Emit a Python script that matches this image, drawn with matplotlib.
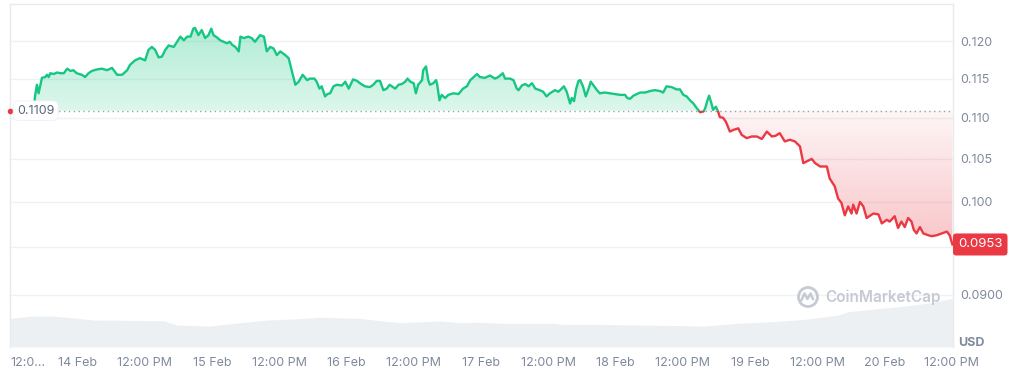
import numpy as np
import matplotlib.pyplot as plt
import matplotlib.transforms as mtransforms
from matplotlib.patches import Polygon, Rectangle, Circle
from matplotlib.lines import Line2D

plt.rcParams['font.family'] = ['Inter', 'DejaVu Sans']

# hours since 13 Feb 12:00 PM, price in USD
hours = [0.0, 1.8, 3.3, 4.2, 4.5, 4.8, 5.1, 5.7, 6.3, 6.6, 6.9, 7.2, 7.8, 8.4, 9.0, 9.6,
         10.2, 10.8, 11.3, 11.9, 12.8, 13.4, 14.0, 14.6, 15.5, 16.4, 17.3, 18.2, 19.1, 20.0,
         20.9, 21.4, 22.3, 23.2, 24.1, 24.7, 25.3, 25.9, 26.5, 27.1, 27.7, 28.3, 29.2, 29.8,
         30.4, 31.0, 31.6, 32.2, 32.7, 33.0, 33.6, 34.2, 34.8, 35.4, 35.9, 36.3, 36.9, 37.5,
         38.1, 38.7, 39.2, 39.6, 40.2, 40.8, 41.1, 41.7, 42.5, 43.1, 43.7, 44.6, 45.3, 45.8,
         46.4, 47.0, 47.6, 48.2, 49.1, 49.7, 50.3, 50.9, 51.5, 52.2, 53.0, 53.5, 54.3, 54.7,
         55.2, 55.6, 56.2, 56.6, 57.1, 57.7, 58.3, 59.2, 59.8, 60.4, 61.2, 61.9, 62.6, 63.3,
         64.2, 64.8, 65.4, 66.0, 66.6, 67.2, 67.7, 68.1, 68.7, 69.3, 69.9, 70.5, 70.9, 71.4,
         72.0, 72.4, 72.8, 73.5, 73.7, 74.2, 74.6, 74.9, 75.5, 76.0, 76.2, 76.6, 77.0, 77.6,
         78.2, 79.1, 80.0, 80.8, 81.5, 82.1, 82.7, 83.3, 83.8, 84.7, 85.6, 86.5, 87.1, 87.9,
         88.3, 89.2, 89.8, 90.4, 90.7, 91.3, 91.9, 92.5, 93.1, 93.7, 94.5, 95.1, 95.7, 96.3,
         97.2, 97.8, 98.4, 98.8, 99.3, 99.9, 100.2, 100.6, 101.0, 101.4, 101.7, 102.2, 102.7,
         103.2, 103.6, 104.0, 104.7, 105.2, 106.1, 107.0, 107.9, 108.8, 109.7, 110.1, 110.6,
         111.2, 111.8, 112.4, 113.3, 114.2, 115.0, 115.9, 116.5, 117.1, 118.0, 118.9, 119.5,
         120.1, 120.7, 121.3, 121.9, 122.5, 123.1, 123.7, 124.0, 124.4, 124.7, 125.2, 125.4,
         125.9, 126.3, 126.6, 127.2, 127.7, 128.4, 129.0, 129.9, 130.5, 131.4, 132.3, 133.2,
         134.1, 135.0, 135.9, 136.6, 137.3, 138.2, 139.1, 140.0, 140.9, 141.5, 142.1, 143.0,
         143.6, 144.5, 145.7, 146.2, 147.1, 147.7, 148.3, 148.9, 149.5, 150.1, 150.4, 151.0,
         151.6, 152.2, 152.8, 154.0, 154.9, 155.5, 156.4, 156.9, 157.8, 158.4, 159.0, 159.6,
         160.2, 160.8, 161.2, 161.7, 162.3, 162.9, 163.8, 164.4, 165.3, 166.2, 167.1, 167.6,
         168.1]
price = [0.1109, 0.1108, 0.1111, 0.1110, 0.1129, 0.1142, 0.1131, 0.1151, 0.1152, 0.1155,
         0.1152, 0.1157, 0.1156, 0.1158, 0.1157, 0.1157, 0.1163, 0.1160, 0.1161, 0.1157,
         0.1155, 0.1152, 0.1157, 0.1160, 0.1162, 0.1163, 0.1161, 0.1164, 0.1155, 0.1155,
         0.1161, 0.1168, 0.1174, 0.1177, 0.1174, 0.1188, 0.1192, 0.1188, 0.1178, 0.1179,
         0.1188, 0.1194, 0.1192, 0.1199, 0.1206, 0.1201, 0.1206, 0.1206, 0.1217, 0.1218,
         0.1208, 0.1215, 0.1204, 0.1208, 0.1217, 0.1208, 0.1205, 0.1201, 0.1199, 0.1197,
         0.1199, 0.1195, 0.1192, 0.1186, 0.1206, 0.1204, 0.1206, 0.1204, 0.1199, 0.1208,
         0.1206, 0.1186, 0.1192, 0.1190, 0.1181, 0.1186, 0.1181, 0.1177, 0.1159, 0.1142,
         0.1146, 0.1155, 0.1148, 0.1150, 0.1150, 0.1146, 0.1137, 0.1140, 0.1127, 0.1130,
         0.1131, 0.1140, 0.1142, 0.1141, 0.1146, 0.1137, 0.1149, 0.1147, 0.1143, 0.1140,
         0.1139, 0.1142, 0.1147, 0.1147, 0.1135, 0.1137, 0.1142, 0.1140, 0.1137, 0.1142,
         0.1143, 0.1146, 0.1150, 0.1146, 0.1144, 0.1131, 0.1142, 0.1148, 0.1161, 0.1166,
         0.1148, 0.1142, 0.1144, 0.1148, 0.1142, 0.1122, 0.1129, 0.1125, 0.1129, 0.1131,
         0.1130, 0.1137, 0.1140, 0.1148, 0.1152, 0.1156, 0.1152, 0.1151, 0.1154, 0.1150,
         0.1152, 0.1157, 0.1150, 0.1150, 0.1148, 0.1137, 0.1135, 0.1141, 0.1143, 0.1140,
         0.1144, 0.1137, 0.1135, 0.1133, 0.1127, 0.1131, 0.1135, 0.1133, 0.1137, 0.1140,
         0.1133, 0.1118, 0.1125, 0.1121, 0.1137, 0.1147, 0.1148, 0.1140, 0.1127, 0.1137,
         0.1146, 0.1142, 0.1135, 0.1131, 0.1132, 0.1131, 0.1130, 0.1129, 0.1129, 0.1125,
         0.1124, 0.1128, 0.1130, 0.1132, 0.1132, 0.1134, 0.1135, 0.1134, 0.1132, 0.1140,
         0.1139, 0.1136, 0.1136, 0.1129, 0.1127, 0.1122, 0.1118, 0.1112, 0.1107, 0.1108,
         0.1112, 0.1122, 0.1128, 0.1116, 0.1110, 0.1114, 0.1108, 0.1101, 0.1100, 0.1095,
         0.1083, 0.1085, 0.1087, 0.1079, 0.1075, 0.1077, 0.1077, 0.1074, 0.1083, 0.1077,
         0.1078, 0.1081, 0.1071, 0.1073, 0.1071, 0.1065, 0.1045, 0.1047, 0.1050, 0.1045,
         0.1041, 0.1041, 0.1027, 0.1018, 0.1004, 0.0999, 0.0985, 0.0995, 0.0987, 0.0997,
         0.0987, 0.1000, 0.0995, 0.0982, 0.0987, 0.0986, 0.0976, 0.0980, 0.0978, 0.0984,
         0.0971, 0.0978, 0.0972, 0.0982, 0.0978, 0.0969, 0.0965, 0.0972, 0.0965, 0.0963,
         0.0962, 0.0963, 0.0965, 0.0967, 0.0963, 0.0953]
ref_price = 0.1109
last_price = 0.0953

# 24h volume (relative, M USD)
vol_hours = [0.0, 4.2, 7.2, 10.2, 14.9, 27.3, 29.8, 35.7, 39.8, 41.1, 45.9, 50.5, 55.3,
             62.4, 66.0, 69.6, 76.7, 80.3, 83.8, 87.9, 97.2, 98.5, 103.8, 112.0, 123.9,
             129.8, 135.9, 141.8, 147.7, 149.5, 153.7, 159.6, 164.4, 168.2]
volume = [28.7, 31.0, 31.0, 29.7, 27.0, 26.3, 22.0, 21.0, 23.7, 24.3, 27.0, 28.0, 29.7,
          28.7, 26.3, 24.3, 26.0, 24.3, 24.7, 23.7, 23.7, 22.7, 22.7, 22.0, 21.0,
          23.7, 25.3, 27.7, 32.0, 35.3, 37.7, 41.0, 44.3, 48.7]

xtick_hours = list(range(0, 169, 12))
xtick_labels = ['12:0...', '14 Feb', '12:00 PM', '15 Feb', '12:00 PM', '16 Feb', '12:00 PM',
                '17 Feb', '12:00 PM', '18 Feb', '12:00 PM', '19 Feb', '12:00 PM', '20 Feb',
                '12:00 PM']
# the 0.095 label sits under the last-price tag, so it is left blank
ytick_values = [0.090, 0.095, 0.100, 0.105, 0.110, 0.115, 0.120]
ytick_labels = ['0.0900', '', '0.100', '0.105', '0.110', '0.115', '0.120']

GREEN = '#16c784'
RED = '#ea3943'
GREY = '#808a9d'
YMIN, YMAX = 0.08485, 0.12514

fig = plt.figure(figsize=(10.1, 3.69), dpi=100)
pos = [10 / 1010, 22 / 369, 943 / 1010, 343 / 369]
vax = fig.add_axes(pos)
ax = fig.add_axes(pos, sharex=vax)
ax.patch.set_visible(False)

# volume underneath
vax.fill_between(vol_hours, volume, 0, color='#edf0f3', lw=0)
vax.set_ylim(0, 343)
vax.set_axis_off()

h = np.array(hours)
p = np.array(price)
ax.set_yscale('log')

ref_frac = (np.log(ref_price) - np.log(YMIN)) / (np.log(YMAX) - np.log(YMIN))


def gradient_fill(rgb, alpha_fn, ys):
    poly = np.column_stack([np.r_[h, h[::-1]], np.r_[ys, np.full(len(h), ref_price)]])
    patch = Polygon(poly, closed=True, transform=ax.transData, fc='none', ec='none')
    ax.add_patch(patch)
    frac = np.linspace(0, 1, 400)
    img = np.zeros((400, 1, 4))
    img[..., :3] = rgb
    img[..., 3] = np.clip(alpha_fn(frac), 0, 1)[:, None]
    im = ax.imshow(img, extent=[0, 1, 0, 1], transform=ax.transAxes, origin='lower',
                   aspect='auto', interpolation='bilinear', zorder=1)
    im.set_clip_path(patch)


gradient_fill((22 / 255, 199 / 255, 132 / 255),
              lambda f: 0.15 + (f - ref_frac) * 0.75, np.maximum(p, ref_price))
gradient_fill((234 / 255, 57 / 255, 67 / 255),
              lambda f: 0.05 + (ref_frac - f) * 0.62, np.minimum(p, ref_price))

# price line, green above the reference price and red below
trans = mtransforms.blended_transform_factory(ax.transAxes, ax.transData)
above = Rectangle((0, ref_price), 1, 1, transform=trans)
below = Rectangle((0, 0.001), 1, ref_price - 0.001, transform=trans)
l1, = ax.plot(h, p, color=GREEN, lw=1.7, zorder=3, solid_joinstyle='round')
l1.set_clip_path(above)
l2, = ax.plot(h, p, color=RED, lw=1.7, zorder=3, solid_joinstyle='round')
l2.set_clip_path(below)

ax.axhline(ref_price, color='#9aa3b2', lw=1, ls=(0, (1, 2.5)), zorder=2)
ax.plot(0, ref_price, 'o', color=RED, ms=3, zorder=4, clip_on=False)
ax.annotate('0.1109', xy=(0, ref_price), xytext=(5, 0), textcoords='offset points',
            ha='left', va='center', fontsize=9, color='#58667e', zorder=6,
            bbox=dict(boxstyle='round,pad=0.3,rounding_size=0.4', fc='white',
                      ec='#edf0f3', lw=0.6))
ax.annotate('0.0953', xy=(1, last_price), xycoords=trans, xytext=(3.6, 0),
            textcoords='offset points', ha='left', va='center', fontsize=9.5,
            color='white', zorder=6, annotation_clip=False,
            bbox=dict(boxstyle='round,pad=0.38,rounding_size=0.25', fc=RED, ec='none'))

ax.set_xlim(0, 168.2)
ax.set_ylim(YMIN, YMAX)
ax.set_yticks(ytick_values, ytick_labels)
ax.minorticks_off()
ax.yaxis.tick_right()
ax.yaxis.grid(True, color='#eff1f4', lw=1)
ax.set_axisbelow(True)
ax.tick_params(axis='y', length=0, pad=5, labelsize=9, labelcolor=GREY)
ax.set_xticks(xtick_hours, xtick_labels)
ax.tick_params(axis='x', length=0, pad=7, labelsize=9, labelcolor=GREY)
ax.get_xticklabels()[0].set_ha('left')
for s in ['top', 'left', 'right']:
    ax.spines[s].set_color('#e8eaee')
    ax.spines[s].set_linewidth(1)
ax.spines['bottom'].set_visible(False)

fig.text(958 / 1010, 1 - 343 / 369, 'USD', ha='left', va='center', fontsize=9,
         fontweight='bold', color=GREY)

# watermark
wm = '#c6cad2'
fig.add_artist(Circle((8.08, 0.72), 0.095, transform=fig.dpi_scale_trans,
                      fc='none', ec=wm, lw=2))
fig.add_artist(Line2D([8.015, 8.045, 8.075, 8.105, 8.13], [0.69, 0.755, 0.70, 0.755, 0.70],
                      transform=fig.dpi_scale_trans, color=wm, lw=1.8))
fig.text(825 / 1010, 1 - 297 / 369, 'CoinMarketCap', ha='left', va='center',
         fontsize=11, fontweight='semibold', color=wm)

plt.savefig('out.png', dpi=100)
